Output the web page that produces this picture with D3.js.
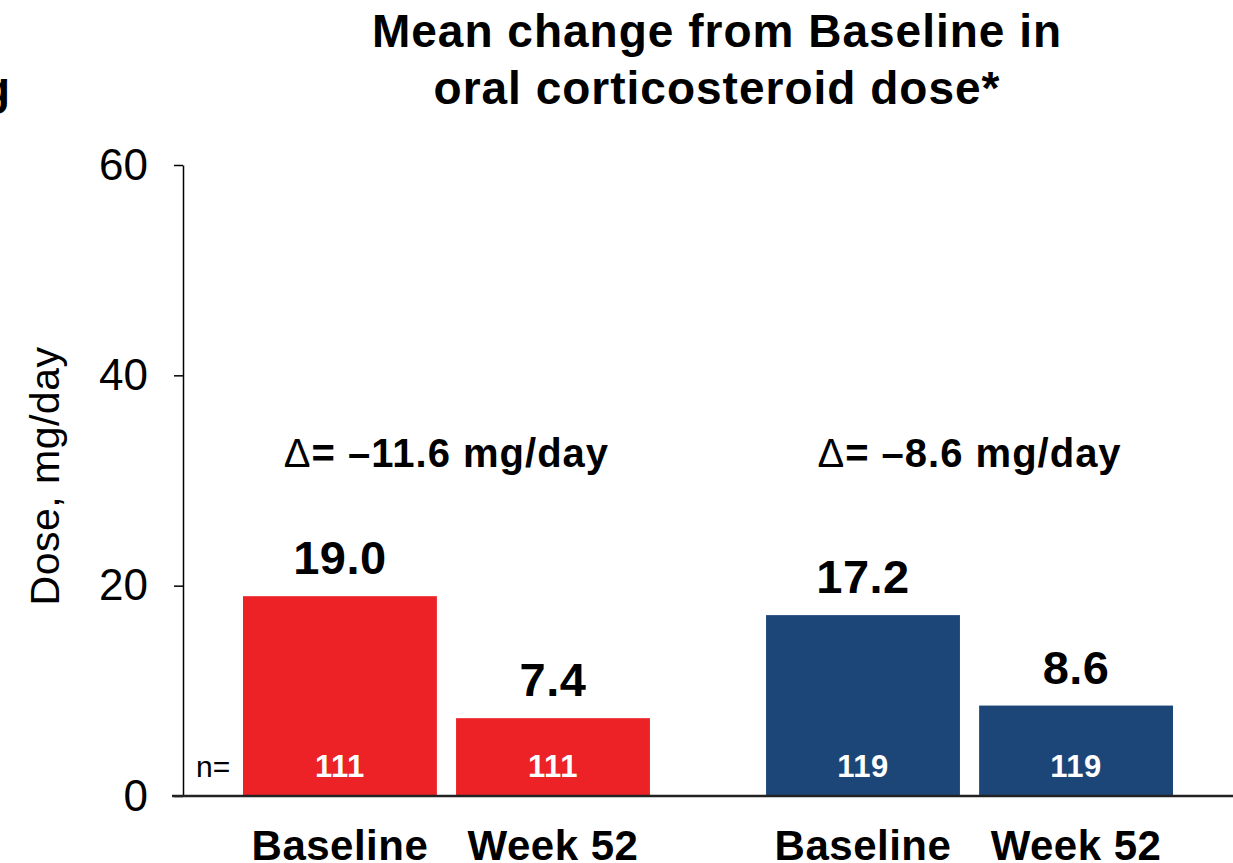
<!DOCTYPE html>
<html>
<head>
<meta charset="utf-8">
<script src="https://cdn.jsdelivr.net/npm/d3@7"></script>
<style>
  body { margin: 0; background: #fff; }
  text { font-family: Arial, "Liberation Sans", sans-serif; }
</style>
</head>
<body>
<div class="chart"></div>
<script>
const svgWidth = 1233;
const svgHeight = 863;

// data
const groups = ['A', 'B'];
const timepoints = ['Baseline', 'Week 52'];
const doseA = [19.0, 7.4];
const doseB = [17.2, 8.6];
const nA = [111, 111];
const nB = [119, 119];
const deltaLabels = ['\u201311.6 mg/day', '\u20138.6 mg/day'];
const yTicks = [0, 20, 40, 60];
const groupColors = ['#EC2227', '#1C4677'];

const rows = [];
groups.forEach((g, gi) => {
  const vals = gi === 0 ? doseA : doseB;
  const ns = gi === 0 ? nA : nB;
  timepoints.forEach((t, ti) => {
    rows.push({ group: g, time: t, value: vals[ti], n: ns[ti], gi: gi });
  });
});

const svg = d3.select('.chart')
  .append('svg')
  .attr('width', svgWidth)
  .attr('height', svgHeight);

// scales
const y = d3.scaleLinear()
  .domain([0, 60])
  .range([796, 165]);

const x0 = d3.scaleBand()
  .domain(groups)
  .range([243, 1173])
  .paddingInner(0.222)
  .paddingOuter(0);

const x1 = d3.scaleBand()
  .domain(timepoints)
  .range([0, x0.bandwidth()])
  .paddingInner(0.09)
  .paddingOuter(0);

const barMid = d => x0(d.group) + x1(d.time) + x1.bandwidth() / 2;

// y axis
const leftAxis = d3.axisLeft(y)
  .tickValues(yTicks)
  .tickSize(9)
  .tickSizeOuter(0)
  .tickPadding(26);

const yAxisG = svg.append('g')
  .attr('transform', 'translate(183, 0)')
  .call(leftAxis);
yAxisG.select('.domain').attr('stroke', '#000').attr('stroke-width', 1.5);
yAxisG.selectAll('.tick line').attr('stroke', '#000').attr('stroke-width', 1.5);
yAxisG.selectAll('.tick text')
  .style('font-size', '44px')
  .attr('fill', '#000')
  .attr('font-family', 'Arial, "Liberation Sans", sans-serif');

// bars
svg.selectAll('rect.bar')
  .data(rows)
  .enter()
  .append('rect')
  .attr('class', 'bar')
  .attr('x', d => x0(d.group) + x1(d.time))
  .attr('y', d => y(d.value))
  .attr('width', x1.bandwidth())
  .attr('height', d => y(0) - y(d.value))
  .attr('fill', d => groupColors[d.gi]);

// x baseline
svg.append('line')
  .attr('x1', 172)
  .attr('x2', svgWidth)
  .attr('y1', y(0))
  .attr('y2', y(0))
  .attr('stroke', '#222')
  .attr('stroke-width', 2.5);

// value labels
svg.selectAll('text.val')
  .data(rows)
  .enter()
  .append('text')
  .attr('class', 'val')
  .attr('x', barMid)
  .attr('y', d => y(d.value) - 22)
  .attr('text-anchor', 'middle')
  .style('font-size', '47px')
  .style('font-weight', 'bold')
  .style('letter-spacing', '0.5px')
  .text(d => d.value.toFixed(1));

// n labels inside bars
svg.selectAll('text.n')
  .data(rows)
  .enter()
  .append('text')
  .attr('class', 'n')
  .attr('x', barMid)
  .attr('y', 777)
  .attr('text-anchor', 'middle')
  .attr('fill', '#fff')
  .style('font-size', '31px')
  .style('font-weight', 'bold')
  .style('letter-spacing', '0.5px')
  .text(d => d.n);

svg.append('text')
  .attr('x', 196)
  .attr('y', 777)
  .style('font-size', '30px')
  .text('n=');

// category labels
svg.selectAll('text.cat')
  .data(rows)
  .enter()
  .append('text')
  .attr('class', 'cat')
  .attr('x', barMid)
  .attr('y', 860)
  .attr('text-anchor', 'middle')
  .style('font-size', '42px')
  .style('font-weight', 'bold')
  .style('letter-spacing', '0.5px')
  .text(d => d.time);

// delta labels
const deltaText = svg.selectAll('text.delta')
  .data(groups)
  .enter()
  .append('text')
  .attr('class', 'delta')
  .attr('x', d => x0(d) + x0.bandwidth() / 2)
  .attr('y', 467)
  .attr('text-anchor', 'middle')
  .style('font-size', '40px')
  .style('font-weight', 'bold')
  .style('letter-spacing', '1px');
deltaText.append('tspan')
  .style('font-weight', 'normal')
  .text('\u0394');
deltaText.append('tspan')
  .text((d, i) => '= ' + deltaLabels[i]);

// title
const title = svg.append('text')
  .attr('x', 717)
  .attr('y', 47)
  .attr('text-anchor', 'middle')
  .style('font-size', '46px')
  .style('font-weight', 'bold')
  .style('letter-spacing', '1px');
title.append('tspan').attr('x', 717).text('Mean change from Baseline in');
title.append('tspan').attr('x', 717).attr('dy', 57).text('oral corticosteroid dose*');

// cut-off letter from neighbouring panel
svg.append('text')
  .attr('x', 10)
  .attr('y', 104)
  .attr('text-anchor', 'end')
  .style('font-size', '46px')
  .style('font-weight', 'bold')
  .text('g');

// y axis title
svg.append('text')
  .attr('transform', 'translate(59, 476) rotate(-90)')
  .attr('text-anchor', 'middle')
  .style('font-size', '41px')
  .style('letter-spacing', '0.5px')
  .text('Dose, mg/day');
</script>
</body>
</html>
